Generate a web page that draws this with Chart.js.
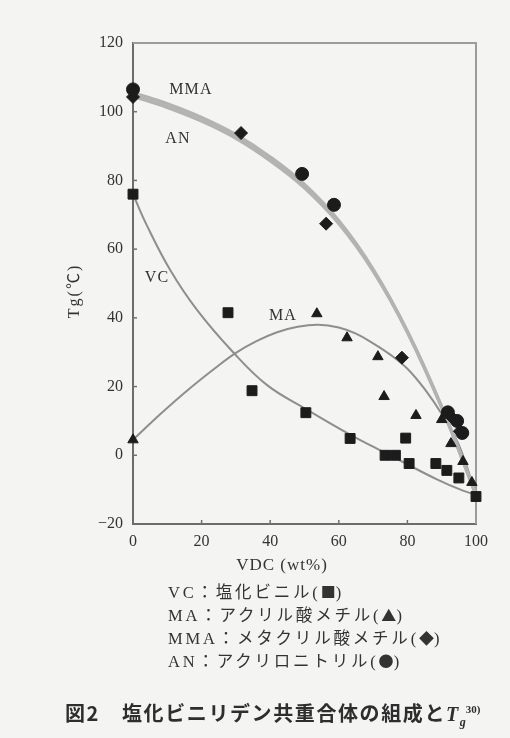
<!DOCTYPE html>
<html>
<head>
<meta charset="utf-8">
<script src="https://cdn.jsdelivr.net/npm/chart.js@4.4.1/dist/chart.umd.min.js"></script>
<style>
  html,body{margin:0;padding:0;background:#f4f4f2;}
  #wrap{position:relative;width:510px;height:738px;overflow:hidden;background:#f4f4f2;}
  canvas{position:absolute;left:0;top:0;}
  .t{position:absolute;white-space:nowrap;color:#333;font-family:"Liberation Serif","Noto Sans CJK JP",serif;}
  .c{transform:translate(-50%,-50%);}
  .lab{font-size:16px;letter-spacing:1.2px;}
  .leg{font-size:16.5px;letter-spacing:2.8px;color:#333;transform:translateY(-50%);}
  .sym{font-family:"Noto Sans CJK JP",sans-serif;font-size:15px;letter-spacing:0;}
  .cap{font-family:"Noto Sans CJK JP",sans-serif;font-weight:bold;font-size:20px;color:#2e2e2e;transform:translateY(-50%);letter-spacing:1.6px;}
</style>
</head>
<body>
<div id="wrap">
<canvas id="c" width="510" height="738"></canvas>
<div class="t c lab" style="left:191px;top:89px;">MMA</div>
<div class="t c lab" style="left:178px;top:138px;">AN</div>
<div class="t c lab" style="left:157px;top:277px;">VC</div>
<div class="t c lab" style="left:283px;top:315px;">MA</div>
<div class="t c" style="left:282px;top:565px;font-size:17px;letter-spacing:1px;">VDC (wt%)</div>
<div class="t c" style="left:72px;top:291px;font-size:16px;letter-spacing:2px;transform:translate(-50%,-50%) rotate(-90deg);">Tg(℃)</div>
<div class="t leg" style="left:168px;top:591px;">VC：塩化ビニル(<span class="sym">■</span>)</div>
<div class="t leg" style="left:168px;top:614px;">MA：アクリル酸メチル(<span class="sym">▲</span>)</div>
<div class="t leg" style="left:168px;top:637px;">MMA：メタクリル酸メチル(<span class="sym">◆</span>)</div>
<div class="t leg" style="left:168px;top:660px;">AN：アクリロニトリル(<span class="sym">●</span>)</div>
<div class="t cap" style="left:65px;top:712px;">図2</div>
<div class="t cap" style="left:122px;top:712px;">塩化ビニリデン共重合体の組成と<span style="font-family:'Liberation Serif',serif;font-style:italic;">T</span><span style="font-family:'Liberation Serif',serif;font-style:italic;font-size:12px;position:relative;top:5px;letter-spacing:0;">g</span><span style="font-family:'Liberation Serif',serif;font-size:11px;position:relative;top:-8px;letter-spacing:0;">30)</span></div>
</div>
<script>
// ---- data ----
const xTicks = [0, 20, 40, 60, 80, 100];
const yTicks = [-20, 0, 20, 40, 60, 80, 100, 120];

// measured points
const vcX  = [0, 27.7, 34.7, 50.4, 63.3, 73.5, 76.5, 79.5, 80.5, 88.3, 91.5, 95, 100];
const vcY  = [76, 41.5, 18.8, 12.4, 4.9, 0, 0, 5, -2.4, -2.4, -4.4, -6.6, -12];
const maX  = [0, 53.6, 62.4, 71.4, 73.2, 82.5, 90, 92.7, 96.2, 98.8];
const maY  = [4.5, 41.2, 34.2, 28.7, 17.1, 11.6, 10.4, 3.4, -1.8, -7.9];
const mmaX = [0, 31.5, 56.3, 78.4, 93, 95.3];
const mmaY = [104.3, 93.8, 67.4, 28.4, 11, 7];
const anX  = [0, 49.3, 58.6, 91.8, 94.5, 96];
const anY  = [106.5, 81.9, 72.9, 12.5, 10, 6.5];

// fitted curves
const vcCurveX = [0, 4, 10.8, 18.6, 29, 39, 50.7, 63.3, 70, 77.8, 88.6, 96.2, 100];
const vcCurveY = [76, 67, 54, 42.4, 30.2, 20.5, 13.3, 6, 2.5, -1.5, -7, -10.3, -11.5];
const maCurveX = [0, 8, 16, 24, 30, 36, 42, 48, 54, 60, 65, 70, 75, 80, 85, 90, 95, 100];
const maCurveY = [4.5, 12, 19, 25.4, 29.8, 33.2, 35.8, 37.4, 38, 37.2, 35.4, 32.6, 29.3, 25.2, 19.3, 12, 3, -11.5];
const bandX     = [0, 10, 20, 30, 40, 50, 60, 70, 80, 90, 100];
const mmaCurveY = [105.5, 102.3, 98.3, 93.3, 86.8, 78.8, 68.2, 54.1, 36, 14, -11.5];
const anCurveY  = [104.5, 101.3, 97.3, 92.3, 85.8, 77.9, 67.5, 53.7, 35.9, 14, -11.5];

const pts = (xs, ys) => xs.map((x, i) => ({x, y: ys[i]}));
const markColor = '#1c1c1c';
const serif = '"Liberation Serif", serif';

function curve(xs, ys, color, w) {
  return {data: pts(xs, ys), showLine: true, borderColor: color, borderWidth: w,
    pointRadius: 0, tension: 0.4, fill: false, order: 1};
}
function marks(xs, ys, style, r) {
  return {data: pts(xs, ys), showLine: false, pointStyle: style, pointRadius: r,
    backgroundColor: markColor, borderColor: markColor, borderWidth: 1, order: 0, clip: false};
}

const frame = {
  id: 'frame',
  beforeDatasetsDraw(chart) {
    const {ctx, chartArea: a} = chart;
    ctx.save();
    ctx.strokeStyle = '#9c9c9c';
    ctx.lineWidth = 2;
    ctx.beginPath();
    ctx.moveTo(a.left, a.top); ctx.lineTo(a.right, a.top); ctx.lineTo(a.right, a.bottom);
    ctx.stroke();
    // inward tick marks
    ctx.strokeStyle = '#707070';
    ctx.lineWidth = 1.5;
    const xs = chart.scales.x, ys = chart.scales.y;
    xTicks.slice(1, -1).forEach(v => {
      const px = xs.getPixelForValue(v);
      ctx.beginPath(); ctx.moveTo(px, a.bottom); ctx.lineTo(px, a.bottom - 4); ctx.stroke();
    });
    yTicks.slice(1, -1).forEach(v => {
      const py = ys.getPixelForValue(v);
      ctx.beginPath(); ctx.moveTo(a.left, py); ctx.lineTo(a.left + 4, py); ctx.stroke();
    });
    ctx.restore();
  }
};

new Chart(document.getElementById('c'), {
  type: 'scatter',
  data: {datasets: [
    marks(vcX, vcY, 'rect', 7),
    marks(maX, maY, 'triangle', 6),
    marks(mmaX, mmaY, 'rectRot', 6.5),
    marks(anX, anY, 'circle', 6.5),
    curve(bandX, mmaCurveY, '#b3b3b3', 3.5),
    curve(bandX, anCurveY, '#b3b3b3', 3.5),
    curve(vcCurveX, vcCurveY, '#8e8e8e', 2),
    curve(maCurveX, maCurveY, '#8e8e8e', 2)
  ]},
  options: {
    responsive: false, animation: false, devicePixelRatio: 1,
    layout: {padding: {left: 0, top: 43, right: 34, bottom: 174}},
    plugins: {legend: {display: false}, tooltip: {enabled: false}},
    scales: {
      x: {type: 'linear', min: 0, max: 100,
        afterBuildTicks: s => { s.ticks = xTicks.map(v => ({value: v})); },
        afterFit: s => { s.height = 40; },
        ticks: {font: {family: serif, size: 16}, color: '#333', padding: 8},
        grid: {display: false, drawTicks: false},
        border: {display: true, color: '#6c6c6c', width: 2}},
      y: {type: 'linear', min: -20, max: 120,
        afterBuildTicks: s => { s.ticks = yTicks.map(v => ({value: v})); },
        afterFit: s => { s.width = 133; },
        ticks: {font: {family: serif, size: 16}, color: '#333', padding: 10,
          callback: v => String(v).replace('-', '\u2212')},
        grid: {display: false, drawTicks: false},
        border: {display: true, color: '#6c6c6c', width: 2}}
    }
  },
  plugins: [frame]
});
</script>
</body>
</html>
